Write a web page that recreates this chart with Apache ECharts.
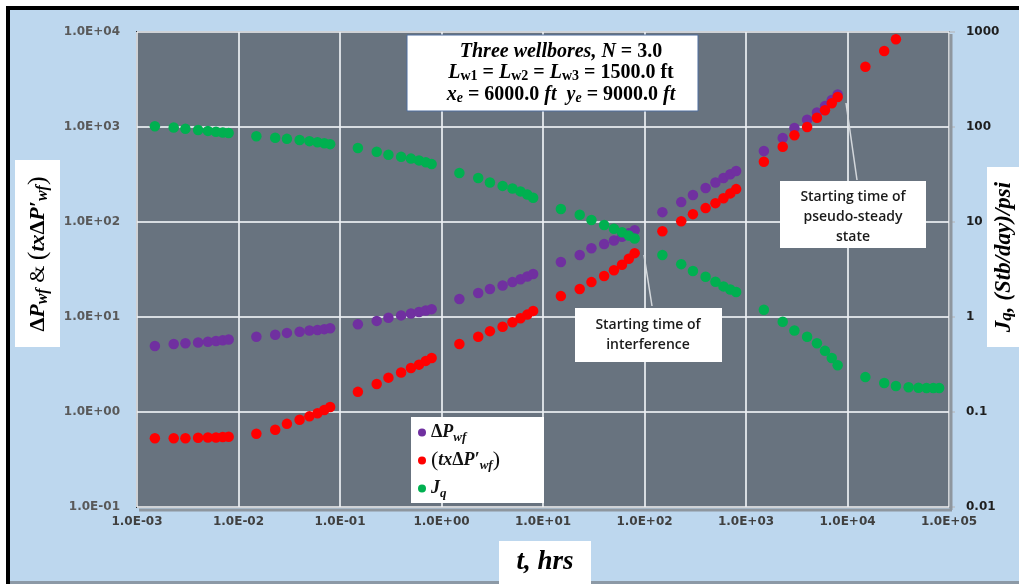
<!DOCTYPE html>
<html>
<head>
<meta charset="utf-8">
<script src="https://cdn.jsdelivr.net/npm/echarts@6/dist/echarts.min.js"></script>
<style>
  html, body { margin: 0; padding: 0; background: #ffffff; }
  #chart { width: 1019px; height: 584px; }
</style>
</head>
<body>
<div id="chart"></div>
<script>
// Elapsed time, hours (shared by all three series)
const tHours = [
  0.0015, 0.0023, 0.003, 0.004, 0.005, 0.006, 0.007, 0.008,
  0.015, 0.023, 0.03, 0.04, 0.05, 0.06, 0.07, 0.08,
  0.15, 0.23, 0.3, 0.4, 0.5, 0.6, 0.7, 0.8,
  1.5, 2.3, 3, 4, 5, 6, 7, 8,
  15, 23, 30, 40, 50, 60, 70, 80,
  150, 230, 300, 400, 500, 600, 700, 800,
  1500, 2300, 3000, 4000, 5000, 6000, 7000, 8000,
  15000, 23000, 30000, 40000, 50000, 60000, 70000, 80000
];

// Pressure drop, psi
const dPwf = [
  4.95, 5.2, 5.3, 5.4, 5.5, 5.6, 5.7, 5.8,
  6.2, 6.5, 6.8, 7.0, 7.2, 7.3, 7.45, 7.6,
  8.4, 9.1, 9.8, 10.4, 10.9, 11.3, 11.7, 12.1,
  15.5, 17.9, 19.7, 21.5, 23.3, 25, 26.7, 28.4,
  38, 45, 53, 58.5, 64, 70, 76, 82,
  127, 162, 192, 228, 260, 290, 318, 344,
  558, 766, 977, 1190, 1420, 1660, 1920, 2200
];

// Pressure derivative t*dP', psi
const tdPwf = [
  0.53, 0.53, 0.53, 0.535, 0.54, 0.54, 0.545, 0.55,
  0.59, 0.65, 0.75, 0.83, 0.9, 0.97, 1.05, 1.13,
  1.63, 1.97, 2.3, 2.6, 2.9, 3.15, 3.45, 3.7,
  5.2, 6.2, 7.1, 7.9, 8.8, 9.7, 10.6, 11.6,
  16.6, 19.7, 23.3, 27, 31, 35.5, 41, 47,
  80, 102, 121, 140, 158, 178, 200, 222,
  430, 620, 820, 1000, 1250, 1500, 1780, 2070,
  4300, 6300, 8400
];

// Productivity index, (Stb/day)/psi
const Jq = [
  102, 99, 96, 93, 91, 89, 87.5, 86.5,
  80, 77, 75, 73, 71, 69, 67.5, 66,
  60, 55, 51, 48.5, 46.5, 44.5, 42.5, 40.7,
  32.8, 29, 26, 24, 22.5, 21, 19.5, 18,
  13.7, 11.9, 10.5, 9.3, 8.5, 7.8, 7.2, 6.7,
  4.5, 3.6, 3.05, 2.65, 2.35, 2.1, 1.95, 1.83,
  1.19, 0.89, 0.72, 0.62, 0.53, 0.44, 0.37, 0.31,
  0.233, 0.202, 0.188, 0.182, 0.18, 0.179, 0.179, 0.179
];

// Tick labels, keyed by power of ten
const xTickLabels = { '-3': '1.0E-03', '-2': '1.0E-02', '-1': '1.0E-01', '0': '1.0E+00', '1': '1.0E+01', '2': '1.0E+02', '3': '1.0E+03', '4': '1.0E+04', '5': '1.0E+05' };
const yLeftTickLabels = { '-1': '1.0E-01', '0': '1.0E+00', '1': '1.0E+01', '2': '1.0E+02', '3': '1.0E+03', '4': '1.0E+04' };
const yRightTickLabels = { '-2': '0.01', '-1': '0.1', '0': '1', '1': '10', '2': '100', '3': '1000' };

const seriesNames = ['dP', 'tdP', 'Jq'];

function zip(values) {
  return values.map((v, i) => [tHours[i], v]);
}
function byPower(table) {
  return v => table[String(Math.round(Math.log10(v)))] || '';
}

const SERIF = '"Liberation Serif", "DejaVu Serif", serif';
const SANS = '"Open Sans", "Liberation Sans", sans-serif';
const TICK = '"DejaVu Sans", sans-serif';

// Rich styles for the math-like labels
function mathRich(base) {
  const sub = Math.round(base * 0.72);
  return {
    m: { fontFamily: SERIF, fontStyle: 'italic', fontWeight: 'bold', fontSize: base, color: '#111' },
    u: { fontFamily: SERIF, fontWeight: 'bold', fontSize: base, color: '#111' },
    n: { fontFamily: SERIF, fontSize: base, color: '#111' },
    p: { fontFamily: SERIF, fontSize: Math.round(base * 1.2), color: '#111' },
    s: { fontFamily: SERIF, fontStyle: 'italic', fontWeight: 'bold', fontSize: sub, color: '#111', verticalAlign: 'bottom' },
    su: { fontFamily: SERIF, fontWeight: 'bold', fontSize: sub, color: '#111', verticalAlign: 'bottom' }
  };
}

const legendText = {
  dP: '{u|Δ}{m|P}{s|wf}',
  tdP: '{p|(}{m|tx}{u|Δ}{m|P′}{s|wf}{p|)}',
  Jq: '{m|J}{s|q}'
};

const chart = echarts.init(document.getElementById('chart'), null, { renderer: 'canvas' });

const gridLine = { show: true, lineStyle: { color: 'rgba(235,238,242,0.85)', width: 2 } };

const option = {
  backgroundColor: '#BDD7EE',
  animation: false,
  grid: {
    left: 137, right: 70, top: 32, bottom: 77,
    show: true,
    backgroundColor: '#68737F',
    borderColor: '#2E3339',
    borderWidth: 2
  },
  legend: {
    orient: 'vertical',
    left: 411, top: 417,
    data: seriesNames,
    icon: 'circle',
    itemWidth: 8, itemHeight: 8,
    itemGap: 5,
    padding: [4, 44, 3, 7],
    backgroundColor: '#ffffff',
    formatter: name => legendText[name],
    textStyle: { rich: mathRich(18), lineHeight: 23 }
  },
  xAxis: {
    type: 'log', logBase: 10, min: 0.001, max: 100000,
    axisLine: { show: false },
    axisTick: { show: false },
    splitLine: gridLine,
    axisLabel: { formatter: byPower(xTickLabels), fontFamily: TICK, fontWeight: 'bold', fontSize: 12, color: '#404040', margin: 9 }
  },
  yAxis: [
    {
      type: 'log', logBase: 10, min: 0.1, max: 10000, position: 'left',
      axisLine: { show: false },
      axisTick: { show: false },
      splitLine: gridLine,
      axisLabel: { formatter: byPower(yLeftTickLabels), fontFamily: TICK, fontWeight: 'bold', fontSize: 12, color: '#595959', margin: 17 }
    },
    {
      type: 'log', logBase: 10, min: 0.01, max: 1000, position: 'right',
      axisLine: { show: false },
      axisTick: { show: true, length: 6, lineStyle: { color: '#b8c0c8', width: 1.5 } },
      splitLine: { show: false },
      axisLabel: { formatter: byPower(yRightTickLabels), fontFamily: TICK, fontWeight: 'bold', fontSize: 12, color: '#1e1e1e', margin: 17 }
    }
  ],
  series: [
    { name: 'dP', type: 'scatter', yAxisIndex: 0, symbol: 'circle', symbolSize: 10.5,
      itemStyle: { color: '#7030A0', opacity: 1 }, data: zip(dPwf) },
    { name: 'tdP', type: 'scatter', yAxisIndex: 0, symbol: 'circle', symbolSize: 10.5,
      itemStyle: { color: '#FF0000', opacity: 1 }, data: zip(tdPwf) },
    { name: 'Jq', type: 'scatter', yAxisIndex: 1, symbol: 'circle', symbolSize: 10.5,
      itemStyle: { color: '#00B050', opacity: 1 }, data: zip(Jq) }
  ],
  graphic: [
    // outer frame
    { type: 'rect', z: 100, shape: { x: 0, y: 0, width: 1019, height: 6 }, style: { fill: '#ffffff' } },
    { type: 'rect', z: 100, shape: { x: 0, y: 0, width: 6, height: 584 }, style: { fill: '#ffffff' } },
    { type: 'rect', z: 100, shape: { x: 6, y: 6, width: 1013, height: 4 }, style: { fill: '#000000' } },
    { type: 'rect', z: 100, shape: { x: 6, y: 6, width: 4, height: 578 }, style: { fill: '#000000' } },
    { type: 'rect', z: 100, shape: { x: 10, y: 581, width: 1009, height: 3 }, style: { fill: '#8c99a6' } },
    // plot-area edge shading
    { type: 'line', z: 100, shape: { x1: 951, y1: 34, x2: 951, y2: 510 }, style: { stroke: '#8e969e', lineWidth: 3 } },
    { type: 'line', z: 100, shape: { x1: 139, y1: 510, x2: 952, y2: 510 }, style: { stroke: '#8e969e', lineWidth: 3 } },

    // case description box
    { type: 'rect', z: 100, shape: { x: 407, y: 35, width: 291, height: 76 },
      style: { fill: '#ffffff', stroke: '#4f6f9f', lineWidth: 1 } },
    { type: 'text', z: 101, x: 561, y: 52,
      style: { text: '{m|Three wellbores, N }{u|= 3.0}', rich: mathRich(20), align: 'center', verticalAlign: 'middle' } },
    { type: 'text', z: 101, x: 561, y: 73,
      style: { text: '{m|L}{su|w1}{u| = }{m|L}{su|w2}{u| = }{m|L}{su|w3}{u| = 1500.0 ft}', rich: mathRich(20), align: 'center', verticalAlign: 'middle' } },
    { type: 'text', z: 101, x: 561, y: 95,
      style: { text: '{m|x}{s|e}{u| = 6000.0 }{m|ft  y}{s|e}{u| = 9000.0 }{m|ft}', rich: mathRich(20), align: 'center', verticalAlign: 'middle' } },

    // interference annotation
    { type: 'line', z: 100, shape: { x1: 644, y1: 255, x2: 652, y2: 306 }, style: { stroke: '#d4d8dc', lineWidth: 1.5 } },
    { type: 'rect', z: 100, shape: { x: 575, y: 308, width: 147, height: 54 }, style: { fill: '#ffffff' } },
    { type: 'text', z: 101, x: 648, y: 335,
      style: { text: 'Starting time of\ninterference', font: '600 14px ' + SANS, fill: '#1a1a1a', align: 'center', verticalAlign: 'middle', lineHeight: 20 } },

    // pseudo-steady state annotation
    { type: 'line', z: 100, shape: { x1: 846, y1: 103, x2: 857, y2: 180 }, style: { stroke: '#d4d8dc', lineWidth: 1.5 } },
    { type: 'rect', z: 100, shape: { x: 780, y: 181, width: 146, height: 67 }, style: { fill: '#ffffff' } },
    { type: 'text', z: 101, x: 853, y: 217,
      style: { text: 'Starting time of\npseudo-steady\nstate', font: '600 14px ' + SANS, fill: '#1a1a1a', align: 'center', verticalAlign: 'middle', lineHeight: 20 } },

    // axis titles
    { type: 'rect', z: 100, shape: { x: 15, y: 160, width: 45, height: 187 }, style: { fill: '#ffffff' } },
    { type: 'text', z: 101, x: 38, y: 254, rotation: Math.PI / 2,
      style: { text: '{u|Δ}{m|P}{s|wf}{n| & }{p|(}{m|tx}{u|Δ}{m|P′}{s|wf}{p|)}', rich: mathRich(22), align: 'center', verticalAlign: 'middle' } },
    { type: 'rect', z: 100, shape: { x: 987, y: 167, width: 32, height: 180 }, style: { fill: '#ffffff' } },
    { type: 'text', z: 101, x: 1004, y: 257, rotation: Math.PI / 2,
      style: { text: '{m|J}{s|q}{m|, (Stb/day)/psi}', rich: mathRich(23), align: 'center', verticalAlign: 'middle' } },
    { type: 'rect', z: 100, shape: { x: 499, y: 541, width: 92, height: 43 }, style: { fill: '#ffffff' } },
    { type: 'text', z: 101, x: 545, y: 562,
      style: { text: '{m|t, hrs}', rich: mathRich(27), align: 'center', verticalAlign: 'middle' } }
  ]
};

chart.setOption(option);
</script>
</body>
</html>
